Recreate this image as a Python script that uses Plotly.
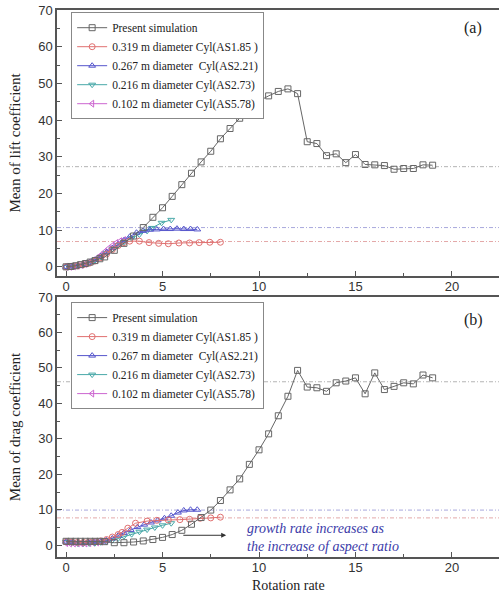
import plotly.graph_objects as go

# ---------------- data ----------------
sim_x = [0, 0.25, 0.5, 0.75, 1, 1.25, 1.5, 1.75, 2, 2.5, 3, 3.5, 4, 4.5, 5, 5.5, 6, 6.5, 7, 7.5,
         8, 8.5, 9, 9.5, 10, 10.5, 11, 11.5, 12, 12.5, 13, 13.5, 14, 14.5, 15, 15.5, 16, 16.5,
         17, 17.5, 18, 18.5, 19]
sim_lift = [0, 0.1, 0.3, 0.6, 0.9, 1.3, 1.7, 2.2, 2.7, 4.5, 6.4, 8.4, 10.7, 13.5, 16.1, 19.2,
            22.4, 25.5, 28.6, 31.5, 34.9, 37.7, 40.5, 42.9, 45.2, 46.6, 47.8, 48.5, 47.2, 34.1,
            33.6, 30.3, 30.8, 28.4, 30.6, 27.9, 27.8, 27.6, 26.6, 26.8, 26.8, 27.8, 27.7]
sim_drag = [1.1, 1.1, 1.1, 1.1, 1.1, 1.1, 1.1, 1.1, 1.0, 0.7, 0.7, 0.9, 1.2, 1.6, 2.2, 3.0,
            4.2, 5.9, 7.8, 9.9, 12.6, 15.6, 18.7, 22.8, 26.9, 31.4, 36.5, 42.0, 49.3, 44.6,
            44.4, 43.4, 45.8, 46.3, 47.2, 42.7, 48.6, 43.9, 44.8, 45.8, 45.5, 48.0, 47.2]

as185_lift_x = [0, 0.3, 0.6, 0.9, 1.2, 1.5, 1.8, 2.1, 2.4, 2.7, 3.0, 3.3, 3.8, 4.3, 4.8, 5.3,
                5.85, 6.4, 6.9, 7.45, 8.0]
as185_lift = [0, 0.1, 0.3, 0.6, 1.0, 1.6, 2.5, 3.5, 4.7, 5.8, 6.6, 7.0, 7.0, 6.6, 6.4, 6.3,
              6.5, 6.5, 6.6, 6.7, 6.7]
as221_lift_x = [0, 0.3, 0.6, 0.9, 1.2, 1.5, 1.8, 2.1, 2.4, 2.7, 3.0, 3.3, 3.65, 4.0, 4.35, 4.7,
                5.05, 5.4, 5.75, 6.1, 6.45, 6.8]
as221_lift = [0, 0.1, 0.3, 0.7, 1.2, 1.9, 2.9, 4.0, 5.1, 6.1, 7.2, 8.2, 9.3, 9.8, 10.1, 10.2,
              10.3, 10.3, 10.4, 10.3, 10.3, 10.2]
as273_lift_x = [0, 0.3, 0.6, 0.9, 1.2, 1.5, 1.8, 2.1, 2.4, 2.7, 3.0, 3.4, 3.8, 4.2, 4.45, 4.95, 5.45]
as273_lift = [0, 0.1, 0.3, 0.6, 1.1, 1.8, 2.7, 3.8, 4.9, 5.9, 6.8, 7.8, 8.8, 9.8, 10.6, 12.0, 12.8]
as578_lift_x = [0, 0.2, 0.4, 0.6, 0.8, 1.0, 1.2, 1.4, 1.6, 1.8, 2.0, 2.2, 2.4, 2.6, 2.8, 3.0]
as578_lift = [0, 0, 0.1, 0.3, 0.5, 0.8, 1.2, 1.7, 2.4, 3.2, 4.1, 5.0, 5.8, 6.5, 7.0, 7.3]

as185_drag_x = [0, 0.3, 0.6, 0.9, 1.2, 1.5, 1.8, 2.1, 2.4, 2.7, 2.9, 3.2, 3.6, 4.2, 4.7, 5.3,
                5.9, 6.4, 6.95, 7.5, 8.0]
as185_drag = [1.0, 0.9, 0.8, 0.8, 0.9, 1.0, 1.2, 1.6, 2.3, 3.0, 3.6, 4.8, 6.2, 6.8, 7.0, 7.1,
              7.2, 7.3, 7.6, 7.7, 7.9]
as221_drag_x = [0, 0.3, 0.6, 0.9, 1.2, 1.5, 1.8, 2.1, 2.4, 2.7, 3.0, 3.35, 3.7, 4.05, 4.4, 4.75,
                5.1, 5.45, 5.8, 6.1, 6.45, 6.8]
as221_drag = [1.0, 0.8, 0.6, 0.6, 0.7, 0.8, 1.0, 1.3, 1.9, 2.7, 3.5, 4.3, 5.1, 5.8, 6.4, 7.0,
              7.6, 8.3, 9.2, 9.8, 10.0, 10.0]
as273_drag_x = [0, 0.3, 0.6, 0.9, 1.2, 1.5, 1.8, 2.1, 2.4, 2.7, 3.0, 3.4, 3.8, 4.2, 4.6, 5.0, 5.45]
as273_drag = [0.9, 0.7, 0.5, 0.5, 0.5, 0.6, 0.8, 1.0, 1.4, 1.9, 2.5, 3.1, 3.8, 4.4, 5.0, 5.6, 6.2]
as578_drag_x = [0, 0.2, 0.4, 0.6, 0.8, 1.0, 1.2, 1.4, 1.6, 1.8, 2.0]
as578_drag = [0.6, 0.5, 0.5, 0.5, 0.5, 0.5, 0.6, 0.7, 0.8, 1.0, 1.2]

lift_levels = [27.3, 10.7, 6.9]
drag_levels = [46.1, 9.9, 7.7]
level_colors = ["#b4b4b4", "#a8a8dc", "#e4a8a8"]

names = ["Present simulation", "0.319 m diameter Cyl(AS1.85 )", "0.267 m diameter  Cyl(AS2.21)",
         "0.216 m diameter Cyl(AS2.73)", "0.102 m diameter Cyl(AS5.78)"]
colors = ["#666666", "#e07070", "#5555cc", "#48a8a8", "#cc66d0"]
symbols = ["square-open", "circle-open", "triangle-up-open", "triangle-down-open", "triangle-left-open"]

lift_series = [(sim_x, sim_lift), (as185_lift_x, as185_lift), (as221_lift_x, as221_lift),
               (as273_lift_x, as273_lift), (as578_lift_x, as578_lift)]
drag_series = [(sim_x, sim_drag), (as185_drag_x, as185_drag), (as221_drag_x, as221_drag),
               (as273_drag_x, as273_drag), (as578_drag_x, as578_drag)]

SERIF = "Liberation Serif, Times New Roman, serif"
SANS = "Liberation Sans, Arial, sans-serif"

fig = go.Figure()
# draw in reverse so present simulation is on top
for i in reversed(range(5)):
    x, y = lift_series[i]
    fig.add_trace(go.Scatter(x=x, y=y, name=names[i], mode="lines+markers", xaxis="x", yaxis="y",
                             legend="legend", legendrank=i,
                             line=dict(color=colors[i], width=1),
                             marker=dict(symbol=symbols[i], size=6, color=colors[i], line=dict(width=1))))
for i in reversed(range(5)):
    x, y = drag_series[i]
    fig.add_trace(go.Scatter(x=x, y=y, name=names[i], mode="lines+markers", xaxis="x2", yaxis="y2",
                             legend="legend2", legendrank=i,
                             line=dict(color=colors[i], width=1),
                             marker=dict(symbol=symbols[i], size=6, color=colors[i], line=dict(width=1))))

shapes = []
for lv, c in zip(lift_levels, level_colors):
    shapes.append(dict(type="line", xref="x domain", yref="y", x0=0, x1=1, y0=lv, y1=lv,
                       line=dict(color=c, width=1, dash="4px,2px,1px,2px"), layer="below"))
for lv, c in zip(drag_levels, level_colors):
    shapes.append(dict(type="line", xref="x2 domain", yref="y2", x0=0, x1=1, y0=lv, y1=lv,
                       line=dict(color=c, width=1, dash="4px,2px,1px,2px"), layer="below"))

axis_common = dict(showline=True, linecolor="#555555", linewidth=1.5, ticks="inside", ticklen=5,
                   tickcolor="#555555", showgrid=False, zeroline=False,
                   tickfont=dict(family=SANS, size=13, color="#333333"))

xcommon = dict(axis_common, range=[-0.47, 22.44], dtick=5, tick0=0, mirror=True,
               ticklabelstandoff=-2,
               minor=dict(dtick=2.5, ticks="inside", ticklen=3, tickcolor="#555555"))
ycommon = dict(axis_common, dtick=10, tick0=0,
               minor=dict(dtick=5, ticks="inside", ticklen=3, tickcolor="#555555"))

legend_common = dict(xanchor="left", yanchor="top", bgcolor="white",
                     bordercolor="#888888", borderwidth=1, tracegroupgap=0, itemwidth=30,
                     font=dict(family=SERIF, size=11.5, color="#222"))

# plot area: top 10px, bottom 557px -> height 547
fig.update_layout(
    width=499, height=593,
    margin=dict(l=57, r=0, t=10, b=36),
    plot_bgcolor="white", paper_bgcolor="white",
    xaxis=dict(xcommon, anchor="y"),
    yaxis=dict(ycommon, domain=[0.5137, 1], range=[-2.5, 70], anchor="x",
               title=dict(text="Mean of lift coefficient", font=dict(family=SERIF, size=15, color="#222"),
                          standoff=14)),
    xaxis2=dict(xcommon, anchor="y2"),
    yaxis2=dict(ycommon, domain=[0, 0.4753], range=[-3.33, 70], anchor="x2",
                title=dict(text="Mean of drag coefficient", font=dict(family=SERIF, size=15, color="#222"),
                           standoff=14)),
    legend=dict(legend_common, x=0.032, y=0.996),
    legend2=dict(legend_common, x=0.032, y=0.466),
    shapes=shapes,
    annotations=[
        dict(text="Rotation rate", xref="paper", yref="paper", x=0.523, y=-0.0512,
             xanchor="center", yanchor="middle", showarrow=False,
             font=dict(family=SERIF, size=14, color="#222")),
        dict(text="(a)", xref="x", yref="y", x=21.1, y=65.1, showarrow=False,
             font=dict(family=SERIF, size=16, color="#222")),
        dict(text="(b)", xref="x2", yref="y2", x=21.1, y=63.5, showarrow=False,
             font=dict(family=SERIF, size=16, color="#222")),
        dict(text="", xref="x2", yref="y2", x=8.3, y=2.8, ax=6.0, ay=2.8, axref="x2", ayref="y2",
             showarrow=True, arrowhead=2, arrowsize=1, arrowwidth=1, arrowcolor="#333333"),
        dict(text="<i>growth rate increases as<br>the increase of aspect ratio</i>", xref="x2", yref="y2",
             x=9.3, y=2.3, xanchor="left", yanchor="middle", align="left", showarrow=False,
             font=dict(family=SERIF, size=14, color="#3a3aa8")),
    ],
)

fig.write_html("out.html")
